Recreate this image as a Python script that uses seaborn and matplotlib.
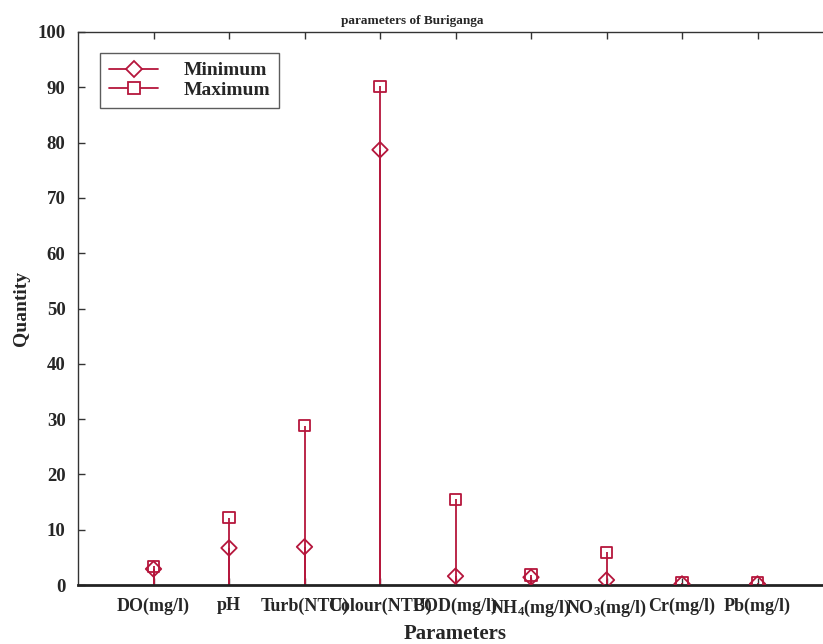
import matplotlib
matplotlib.use("Agg")
import matplotlib.pyplot as plt
import seaborn as sns
import pandas as pd
import numpy as np
from matplotlib.lines import Line2D
from matplotlib.legend_handler import HandlerLine2D

categories = ["DO(mg/l)", "pH", "Turb(NTU)", "Colour(NTU)", "BOD(mg/l)",
              r"NH$_4$(mg/l)", r"NO$_3$(mg/l)", "Cr(mg/l)", "Pb(mg/l)"]
minimum = [2.9, 6.7, 6.9, 78.7, 1.6, 1.4, 0.9, 0.2, 0.2]
maximum = [3.4, 12.2, 28.8, 90.2, 15.5, 1.8, 5.9, 0.4, 0.4]
yticks = [0, 10, 20, 30, 40, 50, 60, 70, 80, 90, 100]

color = "#B5163C"

sns.set_theme(style="ticks")
plt.rcParams['font.family'] = ['Liberation Serif', 'DejaVu Serif']
plt.rcParams['font.weight'] = 'bold'
plt.rcParams['mathtext.fontset'] = 'custom'
plt.rcParams['mathtext.rm'] = 'Liberation Serif:bold'
plt.rcParams['mathtext.it'] = 'Liberation Serif:bold'
plt.rcParams['mathtext.bf'] = 'Liberation Serif:bold'

x = np.arange(1, len(categories) + 1)
df = pd.DataFrame({"x": x, "Minimum": minimum, "Maximum": maximum})

fig = plt.figure(figsize=(8.23, 6.44), dpi=100)
ax = fig.add_axes([78 / 823, 59 / 644, 755 / 823, 553 / 644])

# stems
ax.vlines(df["x"], 0, df["Maximum"], color=color, lw=1.3, zorder=2)
ax.vlines(df["x"], 0, df["Minimum"], color=color, lw=1.3, zorder=2)

sns.scatterplot(data=df, x="x", y="Minimum", marker="D", s=62,
                facecolor="none", edgecolor=color, linewidth=1.3, ax=ax, zorder=3)
sns.scatterplot(data=df, x="x", y="Maximum", marker="s", s=64,
                facecolor="none", edgecolor=color, linewidth=1.3, ax=ax, zorder=3)

ax.set_xlim(0, 10)
ax.set_ylim(0, 100)
ax.set_xticks(x)
ax.set_xticklabels(categories, fontsize=13, fontweight="bold")
ax.set_yticks(yticks)
ax.set_yticklabels([str(v) for v in yticks], fontsize=13.5, fontweight="bold")
ax.tick_params(direction="in", top=True, right=True, length=5, width=1, color="#333333")
ax.tick_params(axis="x", pad=9)
ax.tick_params(axis="y", pad=9)
for side in ["left", "top", "right"]:
    ax.spines[side].set_linewidth(1.0)
    ax.spines[side].set_color("#333333")
ax.spines["bottom"].set_linewidth(2.0)
ax.spines["bottom"].set_color("#222222")

ax.set_xlabel("Parameters", fontsize=15, fontweight="bold", labelpad=4)
ax.set_ylabel("Quantity", fontsize=14, fontweight="bold", labelpad=5)
ax.set_title("parameters of Buriganga", fontsize=9.5, fontweight="bold", pad=6,
             x=(412 - 78) / 755)


class EndMarkerHandler(HandlerLine2D):
    def get_xdata(self, legend, xdescent, ydescent, width, height, fontsize):
        xdata = np.array([-xdescent, -xdescent + width])
        xdata_marker = np.array([-xdescent + width])
        return xdata, xdata_marker


h1 = Line2D([], [], color=color, lw=1.3, marker="D", markersize=8,
            markerfacecolor="white", markeredgecolor=color, markeredgewidth=1.3)
h2 = Line2D([], [], color=color, lw=1.3, marker="s", markersize=8,
            markerfacecolor="white", markeredgecolor=color, markeredgewidth=1.3)
leg = ax.legend([h1, h2], ["Minimum", "Maximum"], loc="upper left",
                bbox_to_anchor=((100 - 78) / 755, (585 - 53) / 553),
                borderaxespad=0,
                handler_map={Line2D: EndMarkerHandler(numpoints=1)},
                prop={"family": "Liberation Serif", "weight": "bold", "size": 14},
                frameon=True, fancybox=False, edgecolor="#333333",
                handlelength=2.55, borderpad=0.45, labelspacing=0.1, handletextpad=1.3)
leg.get_frame().set_linewidth(1.0)
leg._legend_box.sep = 0

fig.savefig("out.png", dpi=100)
